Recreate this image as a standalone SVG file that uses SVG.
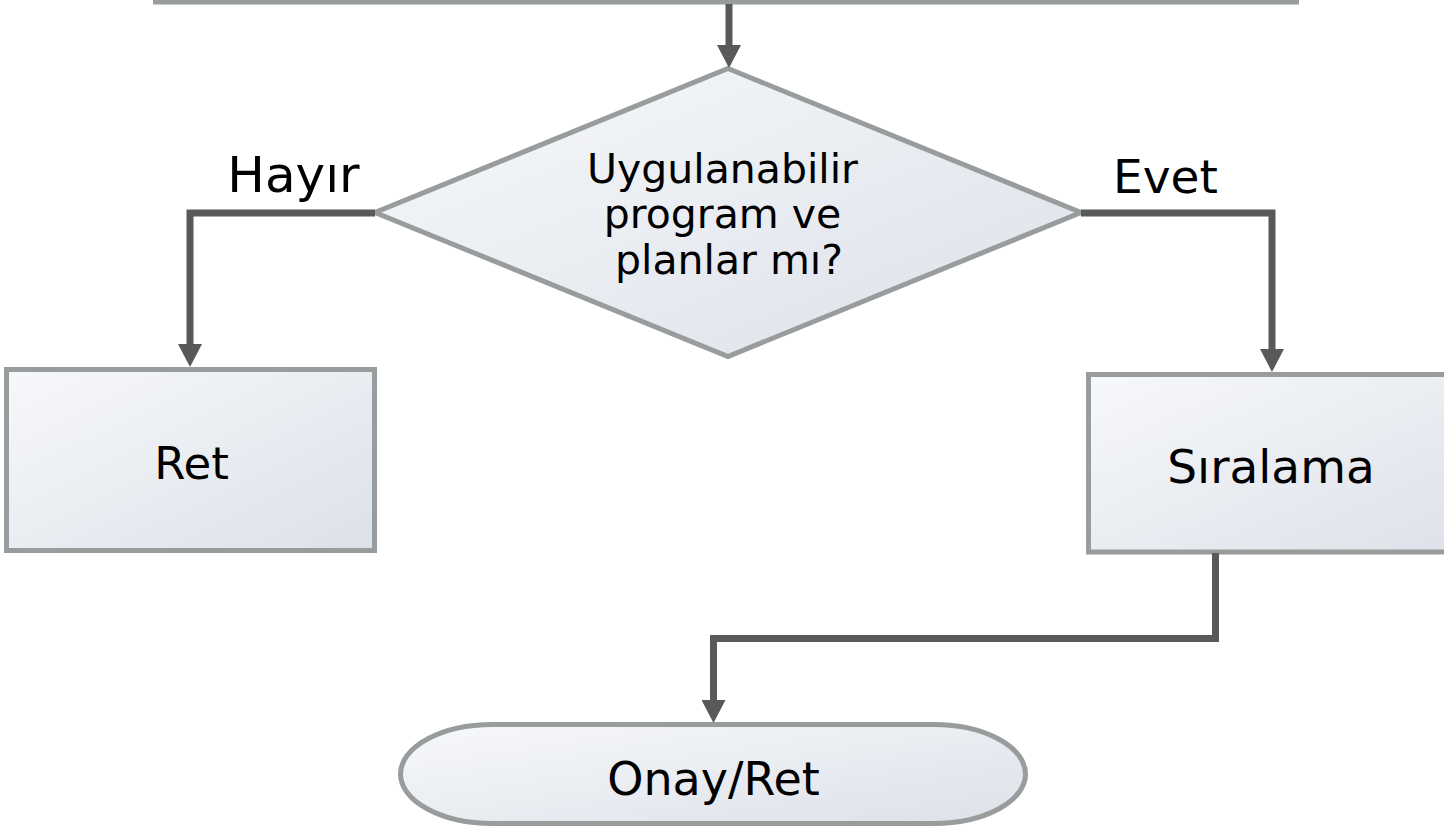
<svg xmlns="http://www.w3.org/2000/svg" width="1444" height="827" viewBox="0 0 1444 827">
  <style>
    .shape { fill: url(#nodeFill); stroke: #989c9c; stroke-width: 5; }
    .link { fill: none; stroke: #595959; stroke-width: 7; stroke-linejoin: miter; marker-end: url(#arrow); }
    .label { font-family: "DejaVu Sans", Verdana, sans-serif; fill: #000; text-anchor: middle; }
  </style>
  <defs>
    <linearGradient id="nodeFill" x1="0" y1="0" x2="1" y2="1">
      <stop offset="0" stop-color="#f7f8fa"/>
      <stop offset="1" stop-color="#dce1e9"/>
    </linearGradient>
    <marker id="arrow" markerUnits="userSpaceOnUse" markerWidth="24" markerHeight="24" viewBox="0 0 23 24" refX="8" refY="12" orient="auto">
      <path d="M0,0 L23,12 L0,24 Z" fill="#595959"/>
    </marker>
  </defs>

  <rect width="1444" height="827" fill="#ffffff"/>

  <!-- process box continuing above the top edge -->
  <g id="node-top">
    <rect class="shape" x="155.5" y="-100" width="1141" height="102"/>
  </g>

  <!-- decision -->
  <g id="node-decision">
    <polygon class="shape" points="728,68.5 1081,212.5 728,356.5 375,212.5"/>
    <text class="label" font-size="41">
      <tspan x="729" y="183">Uygulanabilir</tspan>
      <tspan x="729" y="228">program ve</tspan>
      <tspan x="729" y="274">planlar mı?</tspan>
    </text>
  </g>

  <!-- rejection -->
  <g id="node-ret">
    <rect class="shape" x="6.5" y="369.5" width="368" height="181"/>
    <text class="label" x="191.5" y="479" font-size="45">Ret</text>
  </g>

  <!-- ordering -->
  <g id="node-siralama">
    <rect class="shape" x="1088.5" y="374.5" width="400" height="177.5"/>
    <text class="label" x="1271" y="483" font-size="47">Sıralama</text>
  </g>

  <!-- terminator -->
  <g id="node-onay">
    <rect class="shape" x="400.5" y="724.5" width="625" height="99" rx="92" ry="49.5"/>
    <text class="label" x="713.5" y="795" font-size="46">Onay/Ret</text>
  </g>

  <!-- connectors -->
  <g id="connectors">
    <path class="link" d="M729,4 V53"/>
    <path class="link" d="M375,213 H190 V352"/>
    <path class="link" d="M1081,213 H1272 V357"/>
    <path class="link" d="M1215.5,553 V638.5 H713.5 V708"/>
  </g>

  <!-- branch labels -->
  <g id="branch-labels">
    <text class="label" x="293.5" y="192" font-size="50">Hayır</text>
    <text class="label" x="1165.5" y="193" font-size="47">Evet</text>
  </g>
</svg>
